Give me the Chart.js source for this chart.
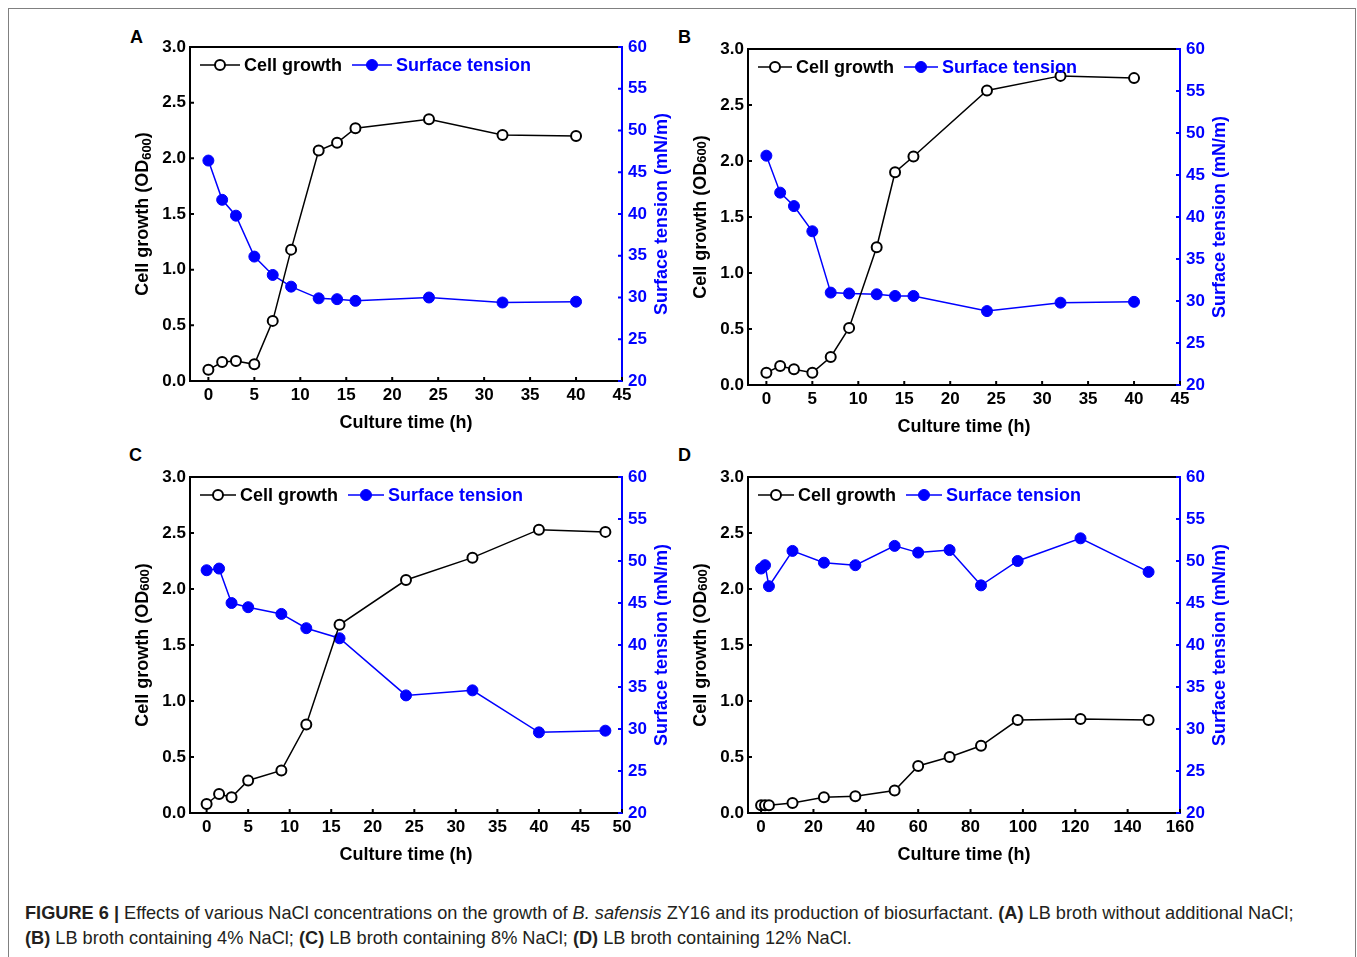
<!DOCTYPE html>
<html>
<head>
<meta charset="utf-8">
<script src="https://cdn.jsdelivr.net/npm/chart.js@4.4.1/dist/chart.umd.min.js"></script>
<style>
body{margin:0;background:#fff;width:1357px;height:957px;overflow:hidden;position:relative;font-family:'Liberation Sans',Arial,sans-serif;}
.frame{position:absolute;left:8px;top:8px;width:1346px;height:980px;border:1px solid #808080;}
canvas{position:absolute;}
.letter{position:absolute;font-weight:bold;font-size:18px;line-height:18px;}
.caption{position:absolute;left:25px;top:901px;font-size:18.2px;line-height:25px;color:#231f20;white-space:nowrap;}
</style>
</head>
<body>
<div class="frame"></div>
<div class="letter" style="left:130px;top:28px">A</div>
<div class="letter" style="left:678px;top:28px">B</div>
<div class="letter" style="left:129px;top:446px">C</div>
<div class="letter" style="left:678px;top:446px">D</div>
<canvas id="chartA" width="562" height="424" style="left:120px;top:17px"></canvas>
<canvas id="chartB" width="562" height="426" style="left:678px;top:19px"></canvas>
<canvas id="chartC" width="562" height="426" style="left:120px;top:447px"></canvas>
<canvas id="chartD" width="562" height="426" style="left:678px;top:447px"></canvas>
<div class="caption"><b>FIGURE 6 |</b> Effects of various NaCl concentrations on the growth of <i>B. safensis</i> ZY16 and its production of biosurfactant. <b>(A)</b> LB broth without additional NaCl;<br><b>(B)</b> LB broth containing 4% NaCl; <b>(C)</b> LB broth containing 8% NaCl; <b>(D)</b> LB broth containing 12% NaCl.</div>
<script>
// data
const timeA = [0, 1.5, 3, 5, 7, 9, 12, 14, 16, 24, 32, 40]
const growthA = [0.10, 0.17, 0.18, 0.15, 0.54, 1.18, 2.07, 2.14, 2.27, 2.35, 2.21, 2.20]
const tensionA = [46.4, 41.7, 39.8, 34.9, 32.7, 31.3, 29.9, 29.8, 29.6, 30.0, 29.4, 29.5]

const timeB = [0, 1.5, 3, 5, 7, 9, 12, 14, 16, 24, 32, 40]
const growthB = [0.11, 0.17, 0.14, 0.11, 0.25, 0.51, 1.23, 1.90, 2.04, 2.63, 2.76, 2.74]
const tensionB = [47.3, 42.9, 41.3, 38.3, 31.0, 30.9, 30.8, 30.6, 30.6, 28.8, 29.8, 29.9]

const timeC = [0, 1.5, 3, 5, 9, 12, 16, 24, 32, 40, 48]
const growthC = [0.08, 0.17, 0.14, 0.29, 0.38, 0.79, 1.68, 2.08, 2.28, 2.53, 2.51]
const tensionC = [48.9, 49.1, 45.0, 44.5, 43.7, 42.0, 40.8, 34.0, 34.6, 29.6, 29.8]

const timeD = [0, 1.5, 3, 12, 24, 36, 51, 60, 72, 84, 98, 122, 148]
const growthD = [0.07, 0.07, 0.07, 0.09, 0.14, 0.15, 0.20, 0.42, 0.50, 0.60, 0.83, 0.84, 0.83]
const tensionD = [49.1, 49.5, 47.0, 51.2, 49.8, 49.5, 51.8, 51.0, 51.3, 47.1, 50.0, 52.7, 48.7]

const xTicks45 = [0, 5, 10, 15, 20, 25, 30, 35, 40, 45]
const xTicks50 = [0, 5, 10, 15, 20, 25, 30, 35, 40, 45, 50]
const xTicks160 = [0, 20, 40, 60, 80, 100, 120, 140, 160]
const growthTicks = [0, 0.5, 1.0, 1.5, 2.0, 2.5, 3.0]
const tensionTicks = [20, 25, 30, 35, 40, 45, 50, 55, 60]

const BLUE = '#0000ff'
const FONT = "'Liberation Sans', Arial, sans-serif"
Chart.defaults.font.family = FONT

// inward tick marks, top frame line, axis titles and the inset legend
const extras = {
    id: 'extras',
    afterDraw(chart, args, opts) {
        const ctx = chart.ctx
        const a = chart.chartArea
        const sx = chart.scales.x, sy = chart.scales.y, sy2 = chart.scales.y2
        ctx.save()
        ctx.lineWidth = 2
        ctx.strokeStyle = '#000'
        ctx.beginPath()
        ctx.moveTo(a.left - 1, a.top); ctx.lineTo(a.right, a.top)
        sx.ticks.forEach(t => {
            const p = sx.getPixelForValue(t.value)
            ctx.moveTo(p, a.bottom); ctx.lineTo(p, a.bottom - 4)
        })
        sy.ticks.forEach(t => {
            const p = sy.getPixelForValue(t.value)
            ctx.moveTo(a.left, p); ctx.lineTo(a.left + 4, p)
        })
        ctx.stroke()
        ctx.strokeStyle = BLUE
        ctx.beginPath()
        sy2.ticks.forEach(t => {
            const p = sy2.getPixelForValue(t.value)
            ctx.moveTo(a.right, p); ctx.lineTo(a.right - 4, p)
        })
        ctx.stroke()

        // axis titles
        const midY = (a.top + a.bottom) / 2
        ctx.font = 'bold 18px ' + FONT
        ctx.textBaseline = 'middle'
        ctx.textAlign = 'center'
        ctx.fillStyle = '#000'
        ctx.fillText('Culture time (h)', (a.left + a.right) / 2, a.bottom + 42)

        ctx.save()
        ctx.translate(a.left - 47, midY)
        ctx.rotate(-Math.PI / 2)
        ctx.textAlign = 'left'
        const p1 = 'Cell growth (OD', p2 = '600', p3 = ')'
        ctx.font = 'bold 18px ' + FONT
        const w1 = ctx.measureText(p1).width, w3 = ctx.measureText(p3).width
        ctx.font = 'bold 13px ' + FONT
        const w2 = ctx.measureText(p2).width
        let x0 = -(w1 + w2 + w3) / 2
        ctx.font = 'bold 18px ' + FONT
        ctx.fillText(p1, x0, 0)
        ctx.font = 'bold 13px ' + FONT
        ctx.fillText(p2, x0 + w1, opts.subShift)
        ctx.font = 'bold 18px ' + FONT
        ctx.fillText(p3, x0 + w1 + w2, 0)
        ctx.restore()

        ctx.save()
        ctx.translate(a.right + 40, midY)
        ctx.rotate(-Math.PI / 2)
        ctx.fillStyle = BLUE
        ctx.fillText('Surface tension (mN/m)', 0, 0)
        ctx.restore()

        // legend inside the plot
        const ly = a.top + 18
        const len = opts.lineLen
        let lx = a.left + 10
        ctx.textAlign = 'left'
        ctx.font = 'bold 18px ' + FONT
        chart.data.datasets.forEach((ds, i) => {
            ctx.strokeStyle = ds.borderColor
            ctx.lineWidth = 1.5
            ctx.beginPath()
            ctx.moveTo(lx, ly); ctx.lineTo(lx + len, ly)
            ctx.stroke()
            ctx.beginPath()
            ctx.arc(lx + len / 2, ly, ds.pointRadius, 0, Math.PI * 2)
            ctx.fillStyle = ds.pointBackgroundColor
            ctx.fill()
            ctx.lineWidth = ds.pointBorderWidth
            ctx.strokeStyle = ds.pointBorderColor
            ctx.stroke()
            ctx.fillStyle = ds.borderColor === BLUE ? BLUE : '#000'
            ctx.fillText(ds.label, lx + len + 4, ly + 1)
            lx += len + 4 + ctx.measureText(ds.label).width + 10
        })
        ctx.restore()
    }
}

function pts(times, vals) {
    return times.map((t, i) => ({x: t, y: vals[i]}))
}

function createChart(id, times, growth, tension, xMin, xMax, xTicks, lineLen, subShift) {
    const tickFont = {size: 17, weight: 'bold'}
    const noGrid = {display: false, drawTicks: false, tickLength: 0}
    return new Chart(document.getElementById(id), {
        type: 'line',
        data: {
            datasets: [{
                label: 'Cell growth',
                data: pts(times, growth),
                yAxisID: 'y',
                borderColor: '#000',
                borderWidth: 1.5,
                pointRadius: 5,
                pointBackgroundColor: '#fff',
                pointBorderColor: '#000',
                pointBorderWidth: 2,
                order: 0
            },
            {
                label: 'Surface tension',
                data: pts(times, tension),
                yAxisID: 'y2',
                borderColor: BLUE,
                borderWidth: 1.5,
                pointRadius: 5.5,
                pointBackgroundColor: BLUE,
                pointBorderColor: BLUE,
                pointBorderWidth: 1,
                order: 1
            }]
        },
        options: {
            responsive: false,
            animation: false,
            layout: {padding: {top: 30, left: 0, right: 0, bottom: 0}},
            scales: {
                x: {
                    type: 'linear',
                    min: xMin,
                    max: xMax,
                    afterFit: s => { s.height = 60 },
                    afterBuildTicks: s => { s.ticks = xTicks.map(v => ({value: v})) },
                    grid: noGrid,
                    border: {display: true, color: '#000', width: 2},
                    ticks: {color: '#000', font: tickFont, padding: 4, maxRotation: 0, autoSkip: false}
                },
                y: {
                    position: 'left',
                    min: 0,
                    max: 3,
                    afterFit: s => { s.width = 70 },
                    afterBuildTicks: s => { s.ticks = growthTicks.map(v => ({value: v})) },
                    grid: noGrid,
                    border: {display: true, color: '#000', width: 2},
                    ticks: {color: '#000', font: tickFont, padding: 4, callback: v => v.toFixed(1)}
                },
                y2: {
                    position: 'right',
                    min: 20,
                    max: 60,
                    afterFit: s => { s.width = 60 },
                    afterBuildTicks: s => { s.ticks = tensionTicks.map(v => ({value: v})) },
                    grid: noGrid,
                    border: {display: true, color: BLUE, width: 2},
                    ticks: {color: BLUE, font: tickFont, padding: 6}
                }
            },
            plugins: {
                legend: {display: false},
                tooltip: {enabled: false},
                extras: {lineLen: lineLen, subShift: subShift}
            }
        },
        plugins: [extras]
    })
}

createChart('chartA', timeA, growthA, tensionA, -2, 45, xTicks45, 40, 4)
createChart('chartB', timeB, growthB, tensionB, -2, 45, xTicks45, 34, 1)
createChart('chartC', timeC, growthC, tensionC, -2, 50, xTicks50, 36, 2)
createChart('chartD', timeD, growthD, tensionD, -5, 160, xTicks160, 36, 2)
</script>
</body>
</html>
